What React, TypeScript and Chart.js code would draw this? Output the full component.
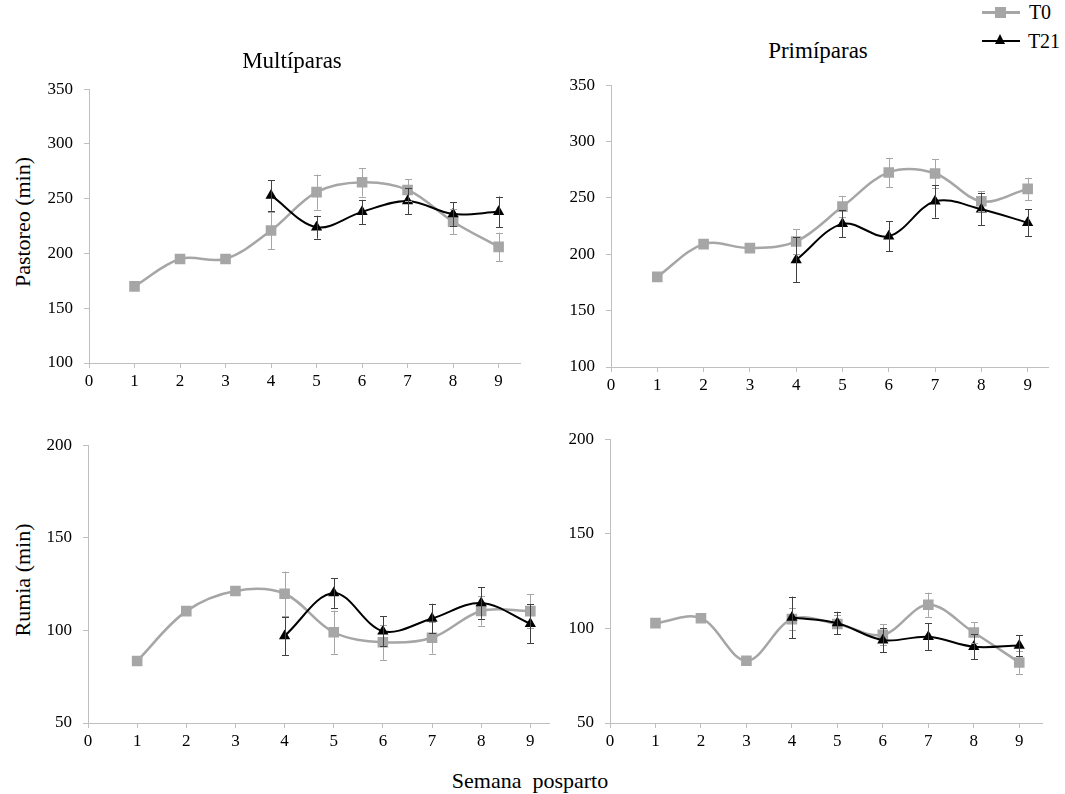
import React, { useEffect, useRef } from "react";
import { Chart, registerables } from "chart.js";

Chart.register(...registerables);

// ---------------- DATA ----------------
const weeksT0 = [1, 2, 3, 4, 5, 6, 7, 8, 9];
const weeksT21 = [4, 5, 6, 7, 8, 9];
const xTickValues = [0, 1, 2, 3, 4, 5, 6, 7, 8, 9];

const pastoreoTicks = [100, 150, 200, 250, 300, 350];
const rumiaTicks = [50, 100, 150, 200];

// Pastoreo – Multíparas
const pastMultT0 = [170, 195, 195, 221, 256, 265, 258, 229, 206];
const pastMultT0Err = [0, 0, 0, 17, 16, 13, 10, 11.5, 13];
const pastMultT21 = [253, 224, 238, 248, 236, 238];
const pastMultT21Err = [14, 10.5, 11, 12, 11, 14];

// Pastoreo – Primíparas
const pastPrimT0 = [180, 209, 205.5, 211.4, 242.3, 272.6, 271.7, 247, 258];
const pastPrimT0Err = [0, 0, 0, 11, 9.5, 13, 12.5, 9, 10];
const pastPrimT21 = [195, 227, 216, 247, 240, 228];
const pastPrimT21Err = [20, 12, 13.5, 14.5, 14, 12];

// Rumia – Multíparas
const rumMultT0 = [83.5, 110.4, 121.3, 119.8, 99, 93.6, 96, 110.5, 110.4];
const rumMultT0Err = [0, 0, 0, 12, 11.7, 9.5, 8.5, 8, 9];
const rumMultT21 = [97, 120.2, 99.6, 106.4, 114.8, 103.6];
const rumMultT21Err = [10.3, 8, 8, 8, 8.5, 10.5];

// Rumia – Primíparas
const rumPrimT0 = [102.8, 105.4, 82.9, 104.9, 102.3, 96.6, 112.5, 97.8, 82];
const rumPrimT0Err = [0, 0, 0, 6, 5, 5.5, 6.4, 5.5, 6];
const rumPrimT21 = [105.8, 102.8, 93.8, 95.6, 90.3, 91];
const rumPrimT21Err = [11, 6, 6.5, 7, 6.7, 5.5];

// ---------------- STYLE ----------------
const GRAY = "#A6A6A6";
const BLACK = "#000000";
const AXIS = "#BFBFBF";
const FONT = "'Liberation Serif', 'Times New Roman', serif";

const errorBarPlugin = {
  id: "errorBars",
  afterDatasetsDraw(chart: any) {
    const ctx = chart.ctx;
    const ys = chart.scales.y;
    const xs = chart.scales.x;
    chart.data.datasets.forEach((ds: any) => {
      const errs: number[] = ds.errors || [];
      ctx.save();
      ctx.strokeStyle = ds.errorColor;
      ctx.lineWidth = 1;
      ds.data.forEach((p: any, i: number) => {
        const e = errs[i];
        if (!e) return;
        const px = Math.round(xs.getPixelForValue(p.x)) + 0.5;
        const top = ys.getPixelForValue(p.y + e);
        const bot = ys.getPixelForValue(p.y - e);
        ctx.beginPath();
        ctx.moveTo(px, top);
        ctx.lineTo(px, bot);
        ctx.moveTo(px - 3.5, Math.round(top) + 0.5);
        ctx.lineTo(px + 3.5, Math.round(top) + 0.5);
        ctx.moveTo(px - 3.5, Math.round(bot) + 0.5);
        ctx.lineTo(px + 3.5, Math.round(bot) + 0.5);
        ctx.stroke();
      });
      ctx.restore();
    });
  },
};

type Panel = {
  left: number;
  top: number;
  width: number;
  height: number;
  padTop: number;
  xMax: number;
  yTicks: number[];
  t0: number[];
  t0Err: number[];
  t21: number[];
  t21Err: number[];
};

const Y_AXIS_W = 50;
const X_AXIS_H = 35;
const PAD_RIGHT = 10;

function ChartPanel({ p }: { p: Panel }) {
  const ref = useRef<HTMLCanvasElement>(null);
  useEffect(() => {
    if (!ref.current) return;
    const chart = new Chart(ref.current, {
      type: "line",
      data: {
        datasets: [
          {
            label: "T0",
            data: weeksT0.map((x, i) => ({ x, y: p.t0[i] })),
            borderColor: GRAY,
            backgroundColor: GRAY,
            borderWidth: 2.5,
            pointStyle: "rect",
            pointRadius: 7.5,
            pointBorderWidth: 0,
            tension: 0.35,
            order: 1,
            errors: p.t0Err,
            errorColor: GRAY,
          } as any,
          {
            label: "T21",
            data: weeksT21.map((x, i) => ({ x, y: p.t21[i] })),
            borderColor: BLACK,
            backgroundColor: BLACK,
            borderWidth: 2,
            pointStyle: "triangle",
            pointRadius: 6.5,
            pointBorderWidth: 0,
            tension: 0.35,
            order: 0,
            errors: p.t21Err,
            errorColor: "#404040",
          } as any,
        ],
      },
      options: {
        animation: false,
        responsive: false,
        maintainAspectRatio: false,
        layout: { padding: { top: p.padTop, right: PAD_RIGHT, left: 0, bottom: 0 } },
        plugins: { legend: { display: false }, tooltip: { enabled: false } },
        scales: {
          x: {
            type: "linear",
            min: 0,
            max: p.xMax,
            afterBuildTicks: (s: any) => {
              s.ticks = xTickValues.map((v) => ({ value: v }));
            },
            afterFit: (s: any) => {
              s.height = X_AXIS_H;
            },
            grid: { display: true, drawOnChartArea: false, drawTicks: true, tickLength: 5, color: AXIS },
            border: { display: true, color: AXIS, width: 1 },
            ticks: { font: { family: FONT, size: 17 }, color: "#000", padding: 3, maxRotation: 0, autoSkip: false },
          },
          y: {
            type: "linear",
            min: p.yTicks[0],
            max: p.yTicks[p.yTicks.length - 1],
            afterBuildTicks: (s: any) => {
              s.ticks = p.yTicks.map((v) => ({ value: v }));
            },
            afterFit: (s: any) => {
              s.width = Y_AXIS_W;
            },
            grid: { display: true, drawOnChartArea: false, drawTicks: true, tickLength: 5, color: AXIS },
            border: { display: true, color: AXIS, width: 1 },
            ticks: { font: { family: FONT, size: 17 }, color: "#000", padding: 11 },
          },
        },
      },
      plugins: [errorBarPlugin],
    } as any);
    return () => chart.destroy();
  }, []);
  return (
    <canvas
      ref={ref}
      width={p.width}
      height={p.height}
      style={{ position: "absolute", left: p.left, top: p.top, width: p.width, height: p.height }}
    />
  );
}

const panels: Panel[] = [
  // Pastoreo – Multíparas : plot x 89..520, y 88..363
  {
    left: 89 - Y_AXIS_W, top: 68, width: 520 - (89 - Y_AXIS_W) + PAD_RIGHT, height: 363 - 68 + X_AXIS_H,
    padTop: 20, xMax: 9.47, yTicks: pastoreoTicks,
    t0: pastMultT0, t0Err: pastMultT0Err, t21: pastMultT21, t21Err: pastMultT21Err,
  },
  // Pastoreo – Primíparas : plot x 611..1048, y 84..367
  {
    left: 611 - Y_AXIS_W, top: 64, width: 1048 - (611 - Y_AXIS_W) + PAD_RIGHT, height: 367 - 64 + X_AXIS_H,
    padTop: 20, xMax: 9.44, yTicks: pastoreoTicks,
    t0: pastPrimT0, t0Err: pastPrimT0Err, t21: pastPrimT21, t21Err: pastPrimT21Err,
  },
  // Rumia – Multíparas : plot x 88..549, y 444..723
  {
    left: 88 - Y_AXIS_W, top: 424, width: 549 - (88 - Y_AXIS_W) + PAD_RIGHT, height: 723 - 424 + X_AXIS_H,
    padTop: 20, xMax: 9.38, yTicks: rumiaTicks,
    t0: rumMultT0, t0Err: rumMultT0Err, t21: rumMultT21, t21Err: rumMultT21Err,
  },
  // Rumia – Primíparas : plot x 610..1042, y 438..723
  {
    left: 610 - Y_AXIS_W, top: 418, width: 1042 - (610 - Y_AXIS_W) + PAD_RIGHT, height: 723 - 418 + X_AXIS_H,
    padTop: 20, xMax: 9.5, yTicks: rumiaTicks,
    t0: rumPrimT0, t0Err: rumPrimT0Err, t21: rumPrimT21, t21Err: rumPrimT21Err,
  },
];

const textStyle = (x: number, y: number, size: number, rotate = false): React.CSSProperties => ({
  position: "absolute",
  left: x,
  top: y,
  transform: `translate(-50%, -50%)${rotate ? " rotate(-90deg)" : ""}`,
  fontFamily: FONT,
  fontSize: size,
  lineHeight: 1,
  whiteSpace: "pre",
  color: "#000",
});

export default function App() {
  return (
    <div style={{ position: "absolute", left: 0, top: 0, width: 1065, height: 794, background: "#fff", overflow: "hidden" }}>
      {panels.map((p, i) => (
        <ChartPanel key={i} p={p} />
      ))}
      <div style={textStyle(292, 60, 23)}>Multíparas</div>
      <div style={textStyle(818, 50, 23)}>Primíparas</div>
      <div style={textStyle(23, 222, 22, true)}>Pastoreo (min)</div>
      <div style={textStyle(23, 580, 22, true)}>Rumia (min)</div>
      <div style={textStyle(530, 781, 22)}>Semana  posparto</div>
      {/* Legend */}
      <div style={{ position: "absolute", left: 982, top: 11, width: 38, height: 3, background: GRAY }} />
      <div style={{ position: "absolute", left: 995, top: 7, width: 11, height: 11, background: GRAY }} />
      <div style={{ ...textStyle(1040, 12, 20) }}>T0</div>
      <div style={{ position: "absolute", left: 982, top: 40, width: 38, height: 2, background: BLACK }} />
      <div
        style={{
          position: "absolute",
          left: 995,
          top: 34,
          width: 0,
          height: 0,
          borderLeft: "5.5px solid transparent",
          borderRight: "5.5px solid transparent",
          borderBottom: "10px solid #000",
        }}
      />
      <div style={{ ...textStyle(1044, 41, 20) }}>T21</div>
    </div>
  );
}
